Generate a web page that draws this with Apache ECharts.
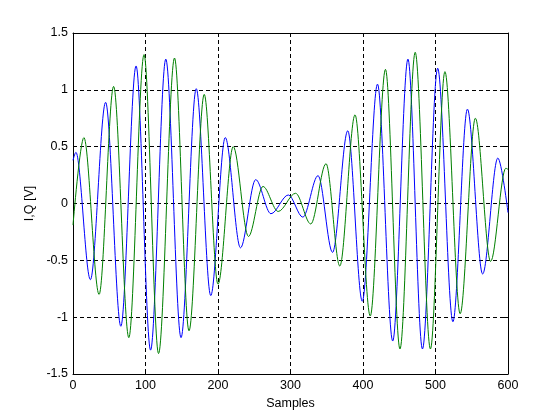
<!DOCTYPE html>
<html>
<head>
<meta charset="utf-8">
<script src="https://cdn.jsdelivr.net/npm/echarts@6/dist/echarts.min.js"></script>
<style>
html,body{margin:0;padding:0;background:#fff;}
#chart{width:560px;height:420px;}
</style>
</head>
<body>
<div id="chart"></div>
<script>
// Sample positions and values read at the extrema of each trace
var iSamples = [0, 4, 24, 45, 66, 87, 107, 128, 149, 170, 190, 210, 231, 252, 273, 297, 317, 338, 358, 379, 399, 420, 441, 462, 482, 503, 524, 544, 565, 586, 600];
var iValues  = [0.38, 0.45, -0.67, 0.89, -1.08, 1.21, -1.29, 1.27, -1.18, 1.01, -0.81, 0.58, -0.39, 0.21, -0.09, 0.075, -0.12, 0.245, -0.43, 0.64, -0.86, 1.05, -1.21, 1.27, -1.28, 1.19, -1.04, 0.83, -0.62, 0.40, -0.08];
var qSamples = [0, 15, 36, 56, 77, 98, 118, 140, 160, 181, 200, 221, 242, 262, 283, 307, 328, 349, 368, 389, 410, 431, 451, 472, 493, 513, 534, 555, 576, 597, 600];
var qValues  = [-0.19, 0.58, -0.80, 1.03, -1.18, 1.31, -1.32, 1.28, -1.12, 0.96, -0.71, 0.50, -0.29, 0.15, -0.07, 0.09, -0.18, 0.35, -0.55, 0.78, -0.99, 1.18, -1.28, 1.33, -1.28, 1.16, -0.97, 0.75, -0.51, 0.31, 0.30];
var xTicks = [0, 100, 200, 300, 400, 500, 600];
var yTicks = [-1.5, -1, -0.5, 0, 0.5, 1, 1.5];

function pairs(xs, ys) { return xs.map(function (x, i) { return [x, ys[i]]; }); }

var FONT = 'Liberation Sans, Arial, sans-serif';
var chart = echarts.init(document.getElementById('chart'), null, { renderer: 'canvas' });
var dash = { color: '#000', width: 1, type: [4, 3] };
var axisLineStyle = { show: true, onZero: false, lineStyle: { color: '#000', width: 1 } };
var tickIn = { show: true, inside: true, length: 4, lineStyle: { color: '#000' } };

chart.setOption({
  animation: false,
  backgroundColor: '#fff',
  grid: { left: 73, right: 52, top: 33, bottom: 46, containLabel: false },
  xAxis: [{
    type: 'value', min: xTicks[0], max: xTicks[xTicks.length - 1], interval: 100,
    position: 'bottom',
    name: 'Samples', nameLocation: 'middle', nameGap: 23,
    nameTextStyle: { color: '#000', fontFamily: FONT, fontSize: 12.5 },
    axisLine: axisLineStyle, axisTick: tickIn,
    axisLabel: { color: '#000', fontFamily: FONT, fontSize: 12.5, margin: 5 },
    splitLine: { show: true, lineStyle: dash }
  }, {
    type: 'value', min: xTicks[0], max: xTicks[xTicks.length - 1], interval: 100,
    position: 'top',
    axisLine: axisLineStyle, axisTick: tickIn,
    axisLabel: { show: false }, splitLine: { show: false }
  }],
  yAxis: [{
    type: 'value', min: yTicks[0], max: yTicks[yTicks.length - 1], interval: 0.5,
    position: 'left',
    name: 'I,Q [V]', nameLocation: 'middle', nameGap: 34, nameRotate: 90,
    nameTextStyle: { color: '#000', fontFamily: FONT, fontSize: 12.5 },
    axisLine: axisLineStyle, axisTick: tickIn,
    axisLabel: { color: '#000', fontFamily: FONT, fontSize: 12.5, margin: 5,
      formatter: function (v) { return String(v); } },
    splitLine: { show: true, lineStyle: dash }
  }, {
    type: 'value', min: yTicks[0], max: yTicks[yTicks.length - 1], interval: 0.5,
    position: 'right',
    axisLine: axisLineStyle, axisTick: tickIn,
    axisLabel: { show: false }, splitLine: { show: false }
  }],
  series: [{
    name: 'I', type: 'line', xAxisIndex: 0, yAxisIndex: 0,
    data: pairs(iSamples, iValues),
    showSymbol: false, smooth: 0.33, smoothMonotone: 'x',
    lineStyle: { color: '#0000ff', width: 1 }, itemStyle: { color: '#0000ff' },
    z: 3
  }, {
    name: 'Q', type: 'line', xAxisIndex: 0, yAxisIndex: 0,
    data: pairs(qSamples, qValues),
    showSymbol: false, smooth: 0.33, smoothMonotone: 'x',
    lineStyle: { color: '#008000', width: 1 }, itemStyle: { color: '#008000' },
    z: 4
  }]
});
</script>
</body>
</html>
